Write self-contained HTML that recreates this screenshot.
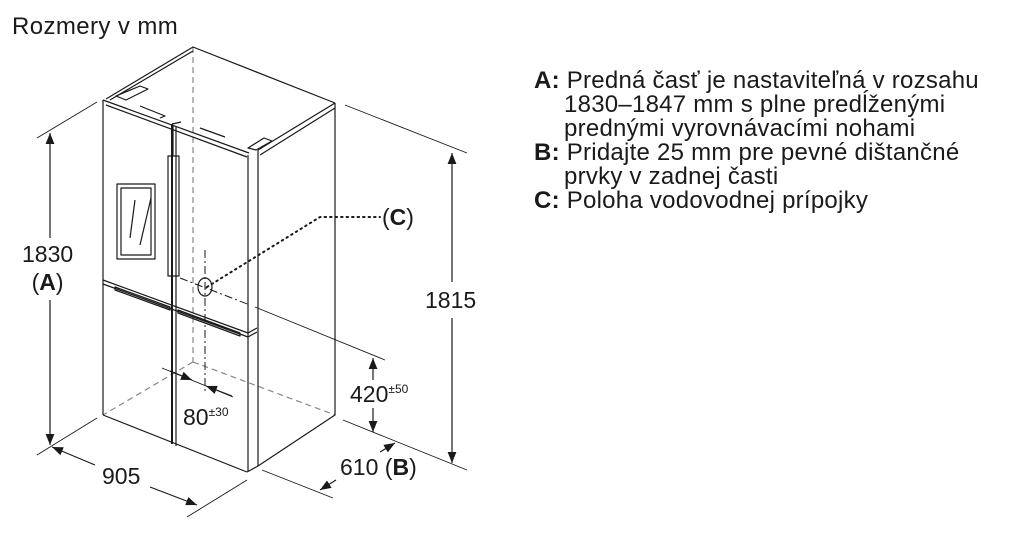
<!DOCTYPE html>
<html><head><meta charset="utf-8"><style>
html,body{margin:0;padding:0;background:#fff;}
body{width:1015px;height:555px;overflow:hidden;position:relative;font-family:"Liberation Sans",Arial,sans-serif;color:#1a1a1a;}
.t{position:absolute;white-space:nowrap;}
</style></head><body>
<svg width="1015" height="555" style="position:absolute;left:0;top:0" xmlns="http://www.w3.org/2000/svg">
<defs>
<marker id="ar" viewBox="0 0 10 10" refX="10" refY="5" markerWidth="11" markerHeight="11" markerUnits="userSpaceOnUse" orient="auto-start-reverse"><path d="M0,1 L10,5 L0,9z" fill="#1a1a1a"/></marker>
</defs>
<g fill="none" stroke="#1a1a1a" stroke-width="1.2" stroke-linejoin="round">
<g stroke="#888" stroke-dasharray="6,4">
<line x1="193" y1="47" x2="193" y2="362"/>
<line x1="193" y1="362" x2="103" y2="415"/>
<line x1="193" y1="362" x2="335" y2="415"/>
</g>
<polyline points="106,99 193,47 335,103"/>
<polyline points="110,100 193,51"/>
<line x1="103" y1="100" x2="249" y2="153"/>
<line x1="106" y1="105" x2="247" y2="157"/>
<polyline points="335,103 258,150"/>
<polyline points="335,108 260,155"/>
<path d="M116,96 L140,86 L148,89 L126,100z"/>
<path d="M248,148 L264,138 L272,141 L256,150z"/>
<path d="M140,106 L165,116 L160,118"/>
<path d="M200,128 L225,137"/>
<line x1="103" y1="100" x2="103" y2="415"/>
<line x1="248" y1="155" x2="248" y2="472"/>
<line x1="258" y1="150" x2="258" y2="466"/>
<line x1="103" y1="415" x2="247" y2="472"/>
<polyline points="247,472 258,466 335,415 335,103"/>
<line x1="172" y1="124" x2="172" y2="444" stroke-width="2"/>
<line x1="176" y1="126" x2="176" y2="446"/>
<line x1="172" y1="124" x2="181" y2="122"/>
<line x1="103" y1="280" x2="248" y2="333"/>
<line x1="103" y1="284" x2="248" y2="337"/>
<path d="M115,287 L170,307 L170,310 L115,290z"/>
<path d="M178,310 L240,333 L240,336 L178,313z"/>
<path d="M248,333 L257,328 M248,337 L257,332"/>
<rect x="168" y="156" width="11" height="120"/>
<line x1="173" y1="125" x2="173" y2="156"/>
<rect x="117" y="184" width="38" height="75"/>
<rect x="121" y="188" width="30" height="67"/>
<line x1="135" y1="200" x2="130" y2="238"/>
<line x1="151" y1="198" x2="140" y2="245"/>
<ellipse cx="205" cy="287" rx="7" ry="9"/>
<line x1="205" y1="250" x2="205" y2="392" stroke-dasharray="8,3,2,3" stroke-width="1"/>
<line x1="180" y1="278" x2="250" y2="305" stroke-dasharray="8,3,2,3" stroke-width="1"/>
<polyline points="207,287 320,217 380,217" stroke-dasharray="1.5,4" stroke-width="2" stroke-linecap="round"/>
<g stroke-width="0.9">
<line x1="97" y1="102" x2="37" y2="138"/>
<line x1="97" y1="418" x2="37" y2="455"/>
<line x1="247" y1="480" x2="187" y2="517"/>
<line x1="262" y1="470" x2="333" y2="498"/>
<line x1="343" y1="420" x2="467" y2="470"/>
<line x1="345" y1="105" x2="467" y2="153"/>
<line x1="255" y1="307" x2="385" y2="360"/>
<line x1="162" y1="368" x2="233" y2="397"/>
</g>
<line x1="50" y1="133" x2="50" y2="238" marker-start="url(#ar)"/>
<line x1="50" y1="300" x2="50" y2="445" marker-end="url(#ar)"/>
<line x1="52" y1="447" x2="95" y2="465" marker-start="url(#ar)"/>
<line x1="150" y1="487" x2="197" y2="505" marker-end="url(#ar)"/>
<line x1="320" y1="490" x2="336" y2="480" marker-start="url(#ar)"/>
<line x1="380" y1="452" x2="395" y2="443" marker-end="url(#ar)"/>
<line x1="452" y1="153" x2="452" y2="282" marker-start="url(#ar)"/>
<line x1="452" y1="318" x2="452" y2="463" marker-end="url(#ar)"/>
<line x1="373" y1="358" x2="373" y2="380" marker-start="url(#ar)"/>
<line x1="373" y1="408" x2="373" y2="432" marker-end="url(#ar)"/>
<line x1="170" y1="371" x2="192" y2="380" marker-end="url(#ar)"/>
<line x1="232" y1="396" x2="206" y2="386" marker-end="url(#ar)"/>
</g>
</svg>
<div class="t" style="left:12px;top:13px;font-size:24px;letter-spacing:0.4px;">Rozmery v mm</div>
<div class="t" style="left:22px;top:240px;font-size:23px;line-height:28px;text-align:center;">1830<br>(<b>A</b>)</div>
<div class="t" style="left:102px;top:463px;font-size:23px;">905</div>
<div class="t" style="left:340px;top:454px;font-size:23px;">610 (<b>B</b>)</div>
<div class="t" style="left:425px;top:287px;font-size:23px;">1815</div>
<div class="t" style="left:350px;top:381px;font-size:23px;">420<span style="font-size:12px;vertical-align:9px">±50</span></div>
<div class="t" style="left:183px;top:404px;font-size:23px;">80<span style="font-size:12px;vertical-align:9px">±30</span></div>
<div class="t" style="left:382px;top:204px;font-size:23px;">(<b>C</b>)</div>
<div class="t" style="left:534px;top:69px;font-size:24px;line-height:24px;letter-spacing:0.25px;">
<b>A:</b> Predná časť je nastaviteľná v rozsahu<br>
<span style="padding-left:30px">1830–1847 mm s plne predĺženými</span><br>
<span style="padding-left:30px">prednými vyrovnávacími nohami</span><br>
<b>B:</b> Pridajte 25 mm pre pevné dištančné<br>
<span style="padding-left:30px">prvky v zadnej časti</span><br>
<b>C:</b> Poloha vodovodnej prípojky
</div>
</body></html>
